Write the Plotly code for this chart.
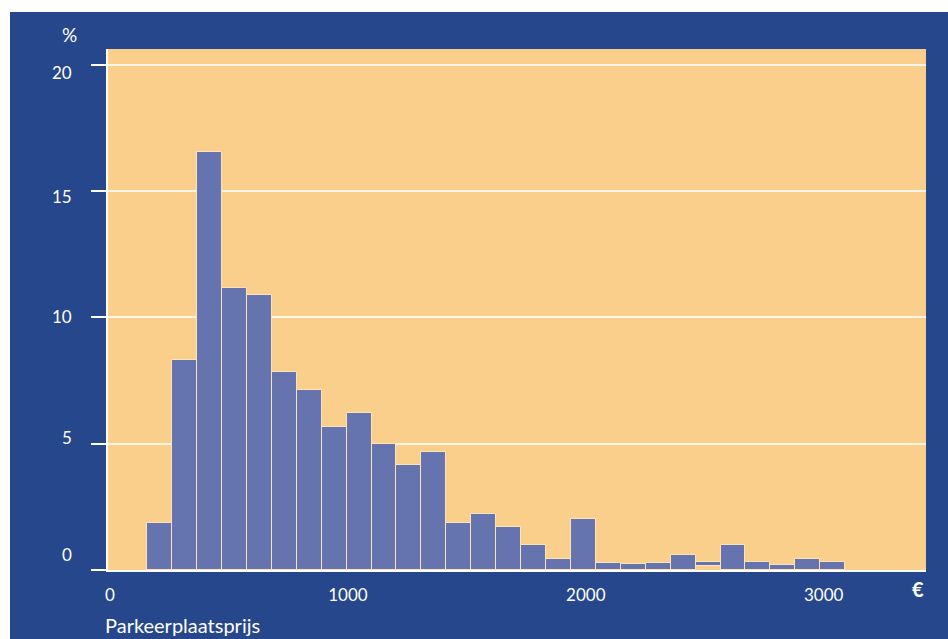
import plotly.graph_objects as go

# ---- data ----
bin_start = 156.0      # left edge of first bin (EUR)
bin_width = 104.8      # bin width (EUR)
percentages = [1.86, 8.31, 16.55, 11.17, 10.90, 7.84, 7.12, 5.66, 6.21, 4.99,
               4.16, 4.67, 1.86, 2.22, 1.70, 0.99, 0.44, 2.02, 0.28, 0.24,
               0.28, 0.58, 0.30, 0.98, 0.30, 0.19, 0.42, 0.30]
bar_bases = [0, 0, 0, 0, 0, 0, 0, 0, 0, 0,
             0, 0, 0, 0, 0, 0, 0, 0, 0, 0,
             0, 0, 0.15, 0, 0, 0, 0, 0]
x_ticks = [0, 1000, 2000, 3000]
x_tick_labels = ["0", "1000", "2000", "3000"]
y_ticks = [0, 5, 10, 15, 20]
y_tick_labels = ["0", "5", "10", "15", "20"]
x_title = "Parkeerplaatsprijs"
y_unit = "%"
x_unit = "€"

# ---- styling ----
BLUE = "#27478C"
ORANGE = "#F9CF8B"
BAR = "#6574AE"
GRID = "#FFF6E6"
FONT = "Lato, 'Open Sans', sans-serif"

centers = [bin_start + bin_width * (i + 0.5) for i in range(len(percentages))]
heights = [p - b for p, b in zip(percentages, bar_bases)]

fig = go.Figure()
fig.add_trace(go.Bar(
    x=centers, y=heights, base=bar_bases, width=bin_width,
    marker=dict(color=BAR, line=dict(color="#FCE4B8", width=1)),
    hoverinfo="skip", showlegend=False,
))

W, H = 948, 639
L, R, T, B = 108, 22, 49, 69
pw, ph = W - L - R, H - T - B


def px(xp):
    return (xp - L) / pw


def py(yp):
    return (H - B - yp) / ph


annotations = []
# y tick labels (placed as text, slightly offset like the original)
y_shifts = [15.5, 6, 1, -5, -8]
for v, lab, s in zip(y_ticks, y_tick_labels, y_shifts):
    annotations.append(dict(x=px(74), xref="paper", y=v, yref="y", yshift=s,
                            text=lab, showarrow=False, xanchor="right", yanchor="middle",
                            font=dict(family=FONT, size=17, color="white")))
annotations += [
    dict(x=px(69.5), y=py(34), xref="paper", yref="paper", text=y_unit, showarrow=False,
         xanchor="center", yanchor="middle", font=dict(family=FONT, size=19, color="white")),
    dict(x=px(918), y=py(589), xref="paper", yref="paper", text=f"<b>{x_unit}</b>", showarrow=False,
         xanchor="center", yanchor="middle", font=dict(family=FONT, size=20, color="white")),
    dict(x=px(103), y=py(625), xref="paper", yref="paper", text=x_title, showarrow=False,
         xanchor="left", yanchor="middle", font=dict(family=FONT, size=20, color="white")),
]

shapes = [
    # white outer margin (top and left strips)
    dict(type="rect", xref="paper", yref="paper", x0=px(0), x1=px(W), y0=py(0), y1=py(12),
         fillcolor="white", line=dict(width=0), layer="above"),
    dict(type="rect", xref="paper", yref="paper", x0=px(0), x1=px(10), y0=py(0), y1=py(H),
         fillcolor="white", line=dict(width=0), layer="above"),
]

fig.update_layout(
    width=W, height=H,
    margin=dict(l=L, r=R, t=T, b=B, pad=0),
    paper_bgcolor=BLUE, plot_bgcolor=ORANGE,
    bargap=0,
    showlegend=False,
    annotations=annotations,
    shapes=shapes,
    xaxis=dict(
        range=[-8.4, 3430], tickvals=x_ticks, ticktext=x_tick_labels,
        showgrid=False, zeroline=False, ticks="",
        showline=True, linecolor="white", linewidth=2,
        tickfont=dict(family=FONT, size=17, color="white"),
        ticklabelstandoff=9, fixedrange=True,
    ),
    yaxis=dict(
        range=[0, 20.62], tickvals=y_ticks, showticklabels=False,
        showgrid=True, gridcolor=GRID, gridwidth=2, zeroline=False,
        ticks="outside", ticklen=15, tickwidth=1.5, tickcolor="white",
        showline=True, linecolor="white", linewidth=1.5,
        fixedrange=True,
    ),
)

fig.write_html("out.html")
